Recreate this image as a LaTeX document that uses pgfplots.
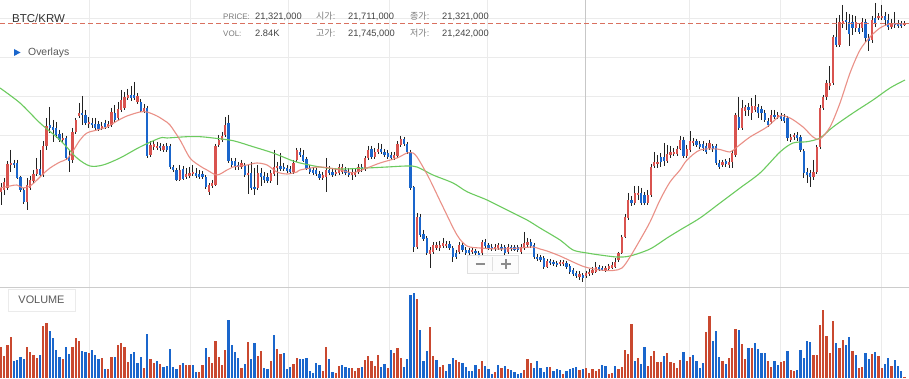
\documentclass[border=0pt]{standalone}
\usepackage{pgfplots}
\pgfplotsset{compat=1.18}
\usepackage{pgfplotstable}
\usepackage{fontspec}
\setmainfont{Liberation Sans}
\newfontfamily\kr{Noto Sans CJK KR}
\definecolor{cred}{HTML}{D9534F}
\definecolor{cblue}{HTML}{1A66CC}
\definecolor{vred}{HTML}{C9482F}
\definecolor{vblue}{HTML}{1A66CC}
\definecolor{wick}{HTML}{222222}
\definecolor{gridc}{HTML}{EBEBEB}
\definecolor{maR}{HTML}{E8857B}
\definecolor{maG}{HTML}{6CCB5F}
\definecolor{lab}{HTML}{7A7A7A}
\definecolor{val}{HTML}{444444}
\definecolor{pline}{HTML}{D9705F}

% candles: values are picture rows of the price panel (0 = top, 287 = bottom)
\pgfplotstableread{
i o h l c
0 192 183 205 188
1 190 178 195 182
2 188 161 190 164
3 165 150 172 163
4 163 160 168 165
5 163 160 179 178
6 177 176 192 190
7 190 188 204 202
8 202 178 210 185
9 188 176 190 180
10 181 170 183 174
11 174 158 176 169
12 169 150 176 175
13 175 141 177 146
14 146 118 150 126
15 125 107 133 128
16 127 120 142 130
17 128 122 138 135
18 134 130 142 140
19 140 133 143 138
20 138 136 160 158
21 157 150 172 161
22 160 128 163 132
23 132 118 134 120
24 116 103 118 113
25 113 96 125 115
26 115 110 125 123
27 124 117 128 122
28 123 118 128 125
29 124 118 130 128
30 124 121 131 129
31 128 122 130 126
32 123 120 129 127
33 127 121 128 124
34 125 108 127 112
35 113 105 122 120
36 118 102 120 109
37 110 90 112 100
38 108 92 110 97
39 98 89 100 95
40 95 86 101 98
41 95 82 100 98
42 102 93 104 96
43 102 99 112 111
44 111 104 113 108
45 108 106 158 156
46 155 141 157 145
47 147 140 150 144
48 148 142 150 146
49 146 143 151 148
50 150 144 152 146
51 146 143 152 150
52 146 144 169 167
53 167 165 172 170
54 170 168 181 180
55 180 165 181 170
56 169 166 180 179
57 177 168 179 174
58 176 167 178 173
59 174 165 176 172
60 173 168 178 176
61 174 170 179 177
62 174 171 179 177
63 177 175 189 187
64 192 183 195 185
65 186 180 188 183
66 185 144 186 146
67 145 135 147 140
68 140 132 142 136
69 135 117 137 125
70 123 115 163 161
71 161 158 167 165
72 161 158 170 167
73 165 162 170 167
74 167 160 169 163
75 165 163 177 175
76 175 165 194 173
77 173 162 190 188
78 187 168 195 189
79 188 165 190 173
80 173 168 186 177
81 176 172 183 180
82 177 173 183 181
83 181 170 183 173
84 174 150 176 167
85 168 162 185 166
86 166 153 171 169
87 167 163 171 169
88 168 165 173 171
89 169 166 174 172
90 172 160 174 163
91 160 148 162 150
92 152 148 157 155
93 155 150 162 161
94 159 157 170 169
95 168 165 174 172
96 170 167 175 173
97 170 168 176 174
98 174 171 180 178
99 178 172 180 175
100 177 158 192 170
101 170 166 175 173
102 172 169 177 175
103 174 168 176 172
104 173 164 175 167
105 172 164 174 167
106 170 167 175 173
107 172 168 177 175
108 175 168 180 172
109 175 169 177 172
110 172 164 174 167
111 167 164 172 169
112 169 156 171 158
113 158 146 160 150
114 149 146 159 157
115 157 148 159 152
116 152 143 154 149
117 149 144 154 152
118 152 149 157 155
119 153 150 159 157
120 155 152 160 158
121 158 152 160 155
122 156 141 158 144
123 145 136 147 139
124 139 137 146 144
125 144 142 154 152
126 152 150 190 188
127 187 186 252 247
128 247 213 249 217
129 217 214 237 235
130 234 230 241 239
131 238 236 255 253
132 254 247 268 250
133 252 242 254 245
134 248 242 250 245
135 248 241 251 245
136 246 238 248 243
137 246 241 248 244
138 244 241 250 248
139 248 246 262 257
140 253 250 259 257
141 252 242 254 245
142 245 243 252 250
143 250 247 255 253
144 250 248 255 253
145 252 248 254 250
146 251 249 256 253
147 253 251 258 257
148 253 240 255 242
149 242 239 248 246
150 245 243 250 248
151 247 244 251 249
152 249 244 251 247
153 248 243 250 245
154 247 244 251 249
155 247 245 255 253
156 252 244 254 247
157 247 245 251 249
158 247 245 251 250
159 247 245 252 250
160 252 244 254 247
161 248 232 250 243
162 245 238 247 242
163 242 239 248 246
164 245 243 259 257
165 257 254 261 259
166 257 255 262 260
167 258 256 269 267
168 267 259 268 261
169 261 259 265 263
170 262 260 266 264
171 263 261 267 265
172 264 260 266 262
173 264 260 266 262
174 263 261 269 267
175 266 264 274 272
176 270 268 276 274
177 273 271 278 276
178 277 271 280 274
179 275 273 282 278
180 276 271 278 273
181 274 269 276 272
182 273 267 275 270
183 272 262 273 267
184 267 265 271 270
185 268 266 271 270
186 271 266 272 268
187 269 264 270 266
188 268 262 269 265
189 267 258 268 262
190 260 252 262 253
191 253 235 254 237
192 237 214 238 217
193 218 193 220 200
194 200 196 206 203
195 203 186 205 193
196 195 186 200 193
197 193 188 205 203
198 195 192 205 203
199 203 190 205 195
200 195 164 197 167
201 166 152 168 162
202 163 155 168 162
203 157 153 167 162
204 157 143 166 161
205 161 145 163 154
206 155 146 158 152
207 154 148 156 152
208 154 146 156 149
209 149 136 150 140
210 140 137 158 156
211 156 145 158 149
212 150 131 152 141
213 143 138 146 141
214 141 139 147 145
215 144 141 149 147
216 144 141 151 148
217 146 143 154 152
218 148 140 150 143
219 146 144 152 149
220 146 144 165 163
221 163 160 169 167
222 165 160 167 162
223 161 159 167 164
224 165 158 168 162
225 162 150 168 153
226 155 113 157 115
227 117 97 130 128
228 128 100 130 108
229 111 105 116 107
230 107 103 116 110
231 113 98 120 106
232 110 95 112 106
233 107 104 118 113
234 109 106 120 113
235 113 110 122 120
236 121 118 127 125
237 122 110 124 115
238 115 110 119 117
239 117 112 119 115
240 116 113 121 119
241 117 114 123 121
242 118 116 141 138
243 140 134 142 137
244 137 133 140 135
245 135 132 141 138
246 137 135 152 150
247 151 149 178 173
248 172 168 183 175
249 173 170 187 177
250 177 160 180 172
251 172 145 174 147
252 147 105 149 108
253 108 95 110 97
254 97 80 100 83
255 86 66 90 83
256 83 35 85 37
257 37 18 47 45
258 45 15 47 22
259 23 5 28 21
260 20 12 30 22
261 22 14 46 34
262 22 15 35 28
263 28 16 32 22
264 28 24 34 32
265 28 18 32 22
266 22 19 42 38
267 38 34 51 41
268 40 16 43 20
269 18 3 27 23
270 18 13 20 16
271 18 5 20 16
272 16 12 26 20
273 20 14 30 27
274 27 19 29 23
275 23 12 28 25
276 23 20 28 26
277 23 21 28 26
278 25 21 26 23
}\candles

% volume (bar height in pixels), vc: 1 red, 0 blue
\pgfplotstableread{
i v vc
0 31 1
1 22 1
2 33 1
3 41 1
4 17 0
5 18 0
6 21 0
7 19 0
8 31 1
9 26 1
10 23 1
11 20 1
12 23 0
13 52 1
14 55 1
15 47 0
16 40 0
17 28 0
18 21 0
19 19 1
20 31 0
21 24 0
22 31 1
23 40 1
24 37 1
25 27 0
26 26 0
27 25 1
28 28 0
29 23 0
30 19 0
31 20 1
32 9 0
33 9 1
34 21 1
35 21 0
36 33 1
37 35 1
38 31 1
39 16 1
40 24 0
41 26 0
42 15 0
43 21 0
44 10 1
45 44 0
46 19 1
47 15 1
48 17 0
49 14 1
50 11 0
51 12 0
52 29 0
53 11 0
54 9 0
55 13 1
56 15 0
57 13 1
58 13 1
59 13 0
60 6 0
61 6 1
62 13 1
63 30 0
64 21 1
65 15 1
66 37 1
67 21 1
68 13 1
69 28 1
70 58 0
71 33 0
72 26 0
73 20 0
74 10 1
75 14 0
76 36 1
77 19 0
78 35 0
79 22 1
80 27 1
81 10 0
82 9 0
83 17 1
84 43 0
85 29 1
86 24 1
87 25 0
88 9 0
89 11 0
90 14 1
91 20 1
92 19 0
93 19 0
94 20 0
95 7 0
96 5 0
97 15 0
98 13 0
99 7 1
100 31 1
101 19 0
102 6 0
103 5 1
104 12 1
105 13 0
106 11 0
107 10 0
108 10 1
109 7 1
110 10 1
111 11 0
112 18 1
113 22 1
114 17 1
115 12 1
116 23 1
117 11 0
118 14 0
119 10 1
120 28 0
121 25 1
122 30 1
123 20 1
124 11 0
125 19 0
126 83 0
127 85 0
128 79 1
129 48 0
130 17 0
131 27 0
132 51 1
133 22 1
134 18 0
135 11 1
136 13 1
137 7 0
138 14 0
139 20 0
140 18 1
141 16 1
142 15 0
143 11 0
144 7 0
145 7 0
146 13 0
147 9 1
148 17 1
149 12 0
150 9 0
151 4 0
152 6 1
153 13 0
154 10 1
155 12 0
156 9 1
157 8 0
158 6 0
159 4 0
160 5 0
161 8 1
162 19 1
163 15 1
164 10 0
165 17 0
166 10 0
167 6 0
168 11 0
169 11 1
170 7 0
171 9 0
172 8 0
173 4 1
174 7 0
175 9 0
176 10 0
177 11 0
178 8 1
179 9 0
180 10 1
181 5 1
182 9 1
183 7 1
184 9 1
185 13 0
186 12 0
187 4 1
188 5 1
189 12 0
190 9 1
191 11 1
192 28 1
193 24 1
194 54 1
195 17 0
196 20 1
197 14 0
198 31 0
199 12 1
200 22 1
201 27 1
202 16 1
203 16 1
204 22 0
205 25 1
206 16 1
207 15 1
208 10 1
209 18 1
210 26 0
211 17 1
212 21 1
213 23 0
214 17 0
215 10 0
216 15 0
217 46 1
218 62 1
219 37 0
220 47 0
221 21 0
222 17 1
223 14 0
224 20 1
225 30 1
226 49 1
227 48 0
228 34 1
229 19 1
230 30 0
231 30 1
232 35 0
233 29 0
234 25 0
235 25 0
236 17 1
237 11 1
238 17 0
239 13 0
240 16 1
241 17 1
242 27 0
243 8 1
244 7 1
245 8 0
246 28 0
247 20 0
248 37 0
249 36 0
250 23 1
251 23 1
252 53 1
253 68 1
254 42 1
255 25 1
256 57 1
257 35 0
258 30 1
259 38 1
260 33 0
261 41 0
262 27 1
263 23 0
264 10 1
265 11 1
266 25 0
267 19 0
268 24 1
269 26 0
270 22 1
271 10 1
272 14 0
273 20 0
274 12 1
275 18 0
276 12 0
277 7 0
278 1 1
}\vols

% moving averages, x in picture pixels, y in picture rows
\pgfplotstableread{
x y
0 188
10 186
17 185
23 188
30 186
37 180
43 174
50 168
60 162
67 159
73 151
80 140
87 133
97 130
107 127
117 121
127 116
140 112
147 112
157 116
165 121
170 125
180 140
190 158
200 166
207 170
217 175
227 170
233 167
247 165
257 163
267 165
277 172
287 174
297 172
300 170
320 167
340 170
353 172.7
367 168
380 163
397 158
407 153
413 153
417 157
423 167
430 180
443 207
457 235
467 246
480 248
500 249
520 248
533 247
540 249
547 251
560 256
573 262
585 267
600 270
613 270.5
622 268
630 257
640 240
650 222
660 200
670 182
680 170
687 160
700 150
717 149
730 152
737 147
750 137
767 127
780 116
790 118
803 127
813 137
820 139
830 127
840 103
850 73
860 50
870 37
880 28
890 24
905 24
}\mared

\pgfplotstableread{
x y
0 88
20 103
40 123
60 140
77 158
90 166
103 165
120 158
140 147
160 138
167 138
187 136.7
200 136.7
213 138
233 140.7
253 146.7
273 153
293 161
300 163
320 167
340 169
367 168
387 167
407 166
417 167
433 175
453 183
467 191.7
487 200
507 210
527 220
540 228
560 240
573 250
587 253
600 255
617 257
630 256
650 249
667 238
680 230
700 218
720 203
740 188
760 173
780 152
793 143
807 141.7
820 138
833 127
853 113
873 100
890 88
905 80
}\magreen

\begin{document}
\begin{tikzpicture}[x=1pt,y=1pt]
\fill[white] (0,0) rectangle (909,379);

% price panel
\begin{axis}[at={(0pt,92pt)}, anchor=south west, scale only axis,
  width=909pt, height=287pt,
  xmin=-0.3077, xmax=279.385, ymin=0, ymax=287,
  axis line style={draw=none}, major tick length=0pt,
  xtick={27.17,58.25,88.4,119.48,149.75,211.78,239.9,270.98},
  ytick={33.5,72.7,112,151.2,190.5,229.7,269},
  xticklabels={}, yticklabels={},
  grid=major, grid style={draw=gridc, line width=0.9pt},
  extra x ticks={179.85}, extra x tick labels={},
  extra x tick style={grid style={draw=black!22, line width=0.9pt}},
  unbounded coords=discard]
  % wicks
  \addplot[wick, line width=0.9pt, quiver={u value=0, v={\thisrow{h}-\thisrow{l}}}]
    table[x=i, y expr={287-\thisrow{h}}] {\candles};
  % rising bodies
  \addplot[cred, line width=2.3pt,
    restrict expr to domain={\thisrow{o}-\thisrow{c}}{0:1000},
    quiver={u value=0, v={-max(abs(\thisrow{o}-\thisrow{c}),1.6)}}]
    table[x=i, y expr={287-min(\thisrow{o},\thisrow{c})}] {\candles};
  % falling bodies
  \addplot[cblue, line width=2.3pt,
    restrict expr to domain={\thisrow{c}-\thisrow{o}}{0.5:1000},
    quiver={u value=0, v={-max(abs(\thisrow{o}-\thisrow{c}),1.6)}}]
    table[x=i, y expr={287-min(\thisrow{o},\thisrow{c})}] {\candles};
  % moving averages
  \addplot[maG, line width=1.1pt, smooth, mark=none]
    table[x expr={(\thisrow{x}-1)/3.25}, y expr={287-\thisrow{y}}] {\magreen};
  \addplot[maR, line width=1.1pt, smooth, mark=none, opacity=0.9]
    table[x expr={(\thisrow{x}-1)/3.25}, y expr={287-\thisrow{y}}] {\mared};
\end{axis}

% volume panel
\begin{axis}[at={(0pt,0pt)}, anchor=south west, scale only axis,
  width=909pt, height=92pt,
  xmin=-0.3077, xmax=279.385, ymin=-1, ymax=91,
  axis line style={draw=none}, major tick length=0pt,
  xtick={27.17,58.25,88.4,119.48,149.75,211.78,239.9,270.98},
  ytick=\empty, xticklabels={},
  xmajorgrids, grid style={draw=gridc, line width=0.9pt},
  extra x ticks={179.85}, extra x tick labels={},
  extra x tick style={grid style={draw=black!22, line width=0.9pt}},
  unbounded coords=discard]
  \addplot[ycomb, mark=none, draw=vred, line width=2.3pt,
    restrict expr to domain={\thisrow{vc}}{0.5:1.5}]
    table[x=i, y=v] {\vols};
  \addplot[ycomb, mark=none, draw=vblue, line width=2.3pt,
    restrict expr to domain={\thisrow{vc}}{-0.5:0.5}]
    table[x=i, y=v] {\vols};
\end{axis}

% current price line (dashed)
\draw[draw=pline, dash pattern=on 5pt off 3pt, line width=1.1pt] (0,355.6) -- (909,355.6);

% panel separator
\draw[black!20, line width=0.9pt] (0,92) -- (909,92);

% header
\node[anchor=base west, inner sep=0, text=black!80, font=\fontsize{11.5}{13}\selectfont] at (12,356.3) {BTC/KRW};
\begin{scope}[every node/.style={anchor=base west, inner sep=0}]
\node[text=lab, font=\fontsize{8}{9}\selectfont] at (223,359.7) {PRICE:};
\node[text=val, font=\fontsize{9.3}{10}\selectfont] at (255,359.7) {21,321,000};
\node[text=lab, font=\fontsize{9}{10}\selectfont] at (316,359.7) {{\kr 시가}:};
\node[text=val, font=\fontsize{9.3}{10}\selectfont] at (348,359.7) {21,711,000};
\node[text=lab, font=\fontsize{9}{10}\selectfont] at (410,359.7) {{\kr 종가}:};
\node[text=val, font=\fontsize{9.3}{10}\selectfont] at (442,359.7) {21,321,000};
\node[text=lab, font=\fontsize{8}{9}\selectfont] at (223,342.3) {VOL:};
\node[text=val, font=\fontsize{9.3}{10}\selectfont] at (255,342.3) {2.84K};
\node[text=lab, font=\fontsize{9}{10}\selectfont] at (316,342.3) {{\kr 고가}:};
\node[text=val, font=\fontsize{9.3}{10}\selectfont] at (348,342.3) {21,745,000};
\node[text=lab, font=\fontsize{9}{10}\selectfont] at (410,342.3) {{\kr 저가}:};
\node[text=val, font=\fontsize{9.3}{10}\selectfont] at (442,342.3) {21,242,000};
\node[text=black!65, font=\fontsize{10.4}{12}\selectfont] at (28,323.5) {Overlays};
\end{scope}
\fill[cblue] (14,330) -- (14,323) -- (20.5,326.5) -- cycle;

% zoom buttons
\fill[black, opacity=0.06] (467.5,105) rectangle (519,123.5);
\fill[white, opacity=0.85] (467,106) rectangle (518,124);
\draw[black!12, line width=0.6pt] (467,106) rectangle (518,124);
\draw[black!12, line width=0.6pt] (492.5,108) -- (492.5,122);
\draw[black!45, line width=2pt] (475.5,115) -- (485,115);
\draw[black!45, line width=2pt] (501,115) -- (511,115);
\draw[black!45, line width=2pt] (506,110) -- (506,120);

% volume label box
\fill[black, opacity=0.08] (8.5,67) rectangle (76,89.5);
\fill[white] (8,68) rectangle (75,90);
\draw[black!8, line width=0.5pt] (8,68) rectangle (75,90);
\node[text=black!65, font=\fontsize{10.9}{12}\selectfont, inner sep=0] at (41.5,79) {VOLUME};

\pgfresetboundingbox
\path (0,0) rectangle (909,379);
\end{tikzpicture}
\end{document}
